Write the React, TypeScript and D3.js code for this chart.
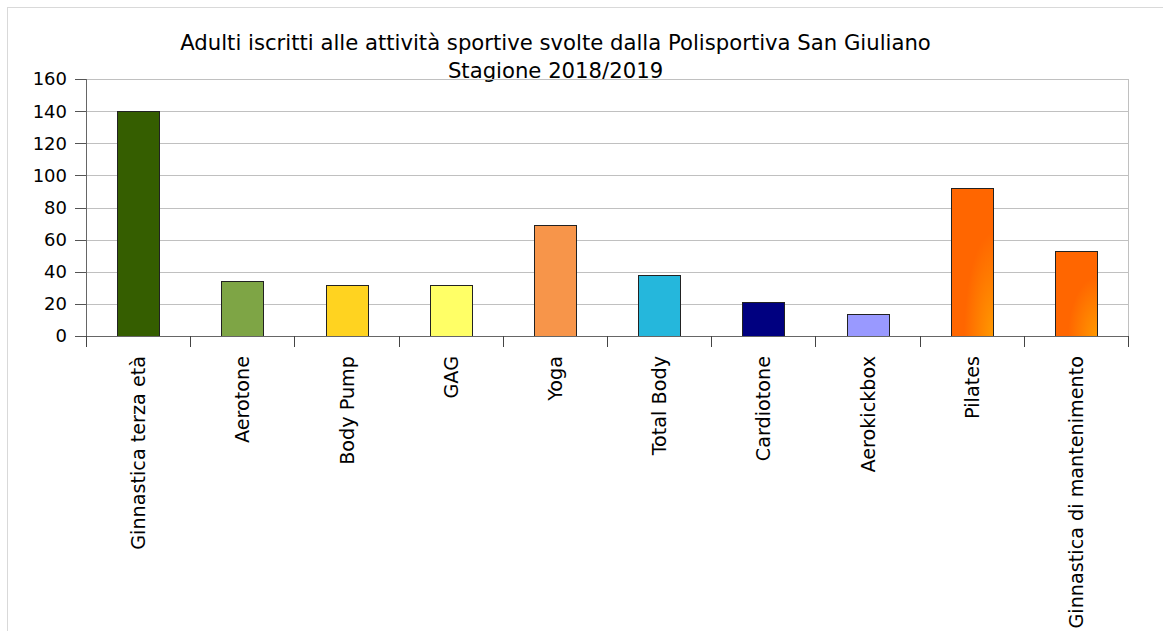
import React from "react";
import * as d3 from "d3";

const categories = [
  "Ginnastica terza età",
  "Aerotone",
  "Body Pump",
  "GAG",
  "Yoga",
  "Total Body",
  "Cardiotone",
  "Aerokickbox",
  "Pilates",
  "Ginnastica di mantenimento",
];
const values = [140, 34, 32, 32, 69, 38, 21, 14, 92, 53];
const colors = [
  "#355E00",
  "#7EA545",
  "#FFD320",
  "#FFFF66",
  "#F7954A",
  "#25B7DC",
  "#000080",
  "#9999FF",
  "grad",
  "grad",
];
const yTicks = [0, 20, 40, 60, 80, 100, 120, 140, 160];
const titleLines = [
  "Adulti iscritti alle attività sportive svolte dalla Polisportiva San Giuliano",
  "Stagione 2018/2019",
];

const W = 1163;
const H = 631;
const left = 86;
const right = 1128;
const top = 79;
const bottom = 336;
const font = "'DejaVu Sans', Verdana, sans-serif";

export default function App() {
  const x = d3.scaleBand<string>().domain(categories).range([left, right]).paddingInner(0.6).paddingOuter(0.3);
  const y = d3.scaleLinear().domain([0, 160]).range([bottom, top]);
  const boundaries = d3.range(categories.length + 1).map((i) => left + (right - left) * (i / categories.length));

  return (
    <svg width={W} height={H} style={{ position: "absolute", left: 0, top: 0 }}>
      <defs>
        <radialGradient id="og" cx="1" cy="1" r="0.7" fx="1" fy="1">
          <stop offset="0" stopColor="#FF9900" />
          <stop offset="0.5" stopColor="#FF8000" />
          <stop offset="1" stopColor="#FF6600" />
        </radialGradient>
      </defs>
      <rect x={0} y={0} width={W} height={H} fill="#fff" />
      <rect x={7.5} y={7.5} width={W + 20} height={H + 20} fill="none" stroke="#d9d9d9" strokeWidth={1} />
      {titleLines.map((t, i) => (
        <text key={i} x={555.5} y={50 + i * 28} textAnchor="middle" fontFamily={font} fontSize={21.2} fill="#000">
          {t}
        </text>
      ))}
      {yTicks.map((t) => (
        <g key={t}>
          {t > 0 && (
            <line x1={left} x2={right} y1={Math.round(y(t)) + 0.5} y2={Math.round(y(t)) + 0.5} stroke="#c0c0c0" strokeWidth={1} />
          )}
          <line x1={75} x2={left} y1={Math.round(y(t)) + 0.5} y2={Math.round(y(t)) + 0.5} stroke="#555" strokeWidth={1} />
          <text x={67} y={y(t)} dy="0.36em" textAnchor="end" fontFamily={font} fontSize={18} fill="#000">
            {t}
          </text>
        </g>
      ))}
      <line x1={right + 0.5} x2={right + 0.5} y1={top} y2={bottom} stroke="#c0c0c0" />
      {categories.map((c, i) => (
        <rect
          key={c}
          x={Math.round(x(c)!) + 0.5}
          y={Math.round(y(values[i])) + 0.5}
          width={Math.round(x.bandwidth())}
          height={Math.round(y(0)) - Math.round(y(values[i]))}
          fill={colors[i] === "grad" ? "url(#og)" : colors[i]}
          stroke="#222"
          strokeWidth={1}
        />
      ))}
      <line x1={left + 0.5} x2={left + 0.5} y1={top} y2={bottom} stroke="#666" />
      <line x1={left} x2={right + 1} y1={bottom + 0.5} y2={bottom + 0.5} stroke="#666" />
      {boundaries.map((b, i) => (
        <line key={i} x1={Math.round(b) + 0.5} x2={Math.round(b) + 0.5} y1={bottom} y2={bottom + 11} stroke="#444" />
      ))}
      {categories.map((c) => {
        const cx = x(c)! + x.bandwidth() / 2;
        return (
          <text
            key={c}
            transform={`translate(${cx + 7},${356}) rotate(-90)`}
            textAnchor="end"
            fontFamily={font}
            fontSize={19.2}
            fill="#000"
          >
            {c}
          </text>
        );
      })}
    </svg>
  );
}
